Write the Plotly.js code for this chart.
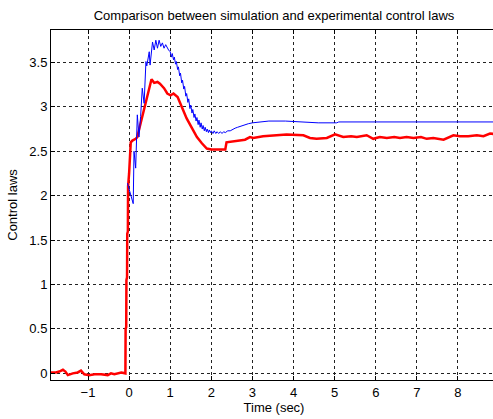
<!DOCTYPE html>
<html>
<head>
<meta charset="utf-8">
<script src="https://cdn.plot.ly/plotly-3.0.1.min.js"></script>
<style>
  html, body { margin: 0; padding: 0; overflow: hidden; background: #ffffff; }
  #chart { width: 500px; height: 419px; }
</style>
</head>
<body>
<div id="chart"></div>
<script>
// Experimental control law (measured), time in seconds
const expTime = [
  -1.90, -1.78, -1.70, -1.61, -1.55, -1.49, -1.37, -1.25, -1.17, -1.09,
  -0.97, -0.84, -0.68, -0.52, -0.44, -0.36, -0.19, -0.11, -0.09, -0.085,
  -0.07, -0.065, -0.05, -0.045, -0.03, -0.025, 0.00, 0.04, 0.08, 0.16,
  0.20, 0.24, 0.33, 0.41, 0.49, 0.545, 0.61, 0.69, 0.75, 0.85,
  0.93, 1.01, 1.08, 1.18, 1.28, 1.40, 1.53, 1.65, 1.77, 1.89,
  2.00, 2.34, 2.37, 2.55, 2.70, 2.82, 2.94, 3.02, 3.26, 3.50,
  3.83, 4.24, 4.40, 4.56, 4.81, 5.01, 5.21, 5.40, 5.54, 5.78,
  5.94, 6.10, 6.27, 6.45, 6.59, 6.75, 6.92, 7.10, 7.24, 7.40,
  7.65, 7.89, 8.05, 8.25, 8.46, 8.62, 8.78, 8.95
];
const expLaw = [
  0.01, 0.01, 0.02, 0.04, 0.02, -0.02, 0.00, 0.01, 0.03, -0.01,
  -0.02, -0.01, -0.01, -0.02, 0.00, -0.01, 0.01, 0.00, 0.00, 0.50,
  0.52, 1.05, 1.08, 1.57, 1.60, 2.10, 2.25, 2.60, 2.62, 2.64,
  2.66, 2.74, 2.91, 3.09, 3.24, 3.31, 3.27, 3.28, 3.26, 3.21,
  3.15, 3.13, 3.15, 3.11, 3.00, 2.87, 2.76, 2.66, 2.59, 2.53,
  2.52, 2.52, 2.60, 2.61, 2.62, 2.63, 2.66, 2.65, 2.67, 2.68,
  2.69, 2.68, 2.65, 2.64, 2.65, 2.69, 2.66, 2.67, 2.66, 2.68,
  2.64, 2.66, 2.65, 2.66, 2.65, 2.66, 2.65, 2.66, 2.64, 2.65,
  2.63, 2.68, 2.67, 2.67, 2.68, 2.67, 2.70, 2.69
];

// Simulated control law, time in seconds
const simTime = [
  -0.04, 0.04, 0.10, 0.12, 0.16, 0.20, 0.24, 0.28, 0.32, 0.365,
  0.41, 0.43, 0.49, 0.51, 0.57, 0.61, 0.65, 0.69, 0.73, 0.77,
  0.81, 0.85, 0.89, 0.96, 1.00, 1.03, 1.05, 1.08, 1.10, 1.13,
  1.15, 1.18, 1.20, 1.23, 1.25, 1.28, 1.30, 1.33, 1.35, 1.38,
  1.40, 1.43, 1.45, 1.48, 1.50, 1.53, 1.55, 1.58, 1.60, 1.63,
  1.65, 1.68, 1.70, 1.73, 1.75, 1.78, 1.80, 1.83, 1.85, 1.88,
  1.90, 1.93, 1.95, 1.98, 2.00, 2.04, 2.07, 2.11, 2.14, 2.18,
  2.22, 2.26, 2.30, 2.34, 2.40, 2.46, 2.52, 2.58, 2.64, 2.70,
  2.80, 2.90, 3.00, 3.20, 3.40, 3.80, 4.20, 4.60, 5.05, 5.10,
  6.00, 8.95
];
const simLaw = [
  2.14, 2.00, 1.91, 2.50, 2.31, 2.91, 2.66, 2.89, 3.21, 3.04,
  3.51, 3.46, 3.62, 3.47, 3.73, 3.64, 3.75, 3.66, 3.75, 3.68,
  3.72, 3.66, 3.70, 3.64, 3.62, 3.56, 3.60, 3.53, 3.56, 3.48,
  3.51, 3.42, 3.45, 3.35, 3.38, 3.27, 3.30, 3.20, 3.23, 3.12,
  3.15, 3.05, 3.09, 2.98, 3.02, 2.93, 2.97, 2.88, 2.92, 2.84,
  2.88, 2.80, 2.85, 2.77, 2.82, 2.75, 2.79, 2.73, 2.77, 2.72,
  2.75, 2.71, 2.74, 2.71, 2.73, 2.70, 2.73, 2.70, 2.72, 2.70,
  2.72, 2.70, 2.72, 2.71, 2.73, 2.73, 2.75, 2.76, 2.77, 2.78,
  2.80, 2.81, 2.82, 2.83, 2.84, 2.84, 2.83, 2.82, 2.82, 2.83,
  2.83, 2.83
];

const xTicks = [-1, 0, 1, 2, 3, 4, 5, 6, 7, 8];
const yTicks = [0, 0.5, 1, 1.5, 2, 2.5, 3, 3.5];

const font = { family: 'Liberation Sans, Arial, sans-serif', size: 13, color: '#000000' };

const traces = [
  {
    x: expTime, y: expLaw, type: 'scatter', mode: 'lines',
    line: { color: '#ff0000', width: 2.5 }, name: 'Experimental'
  },
  {
    x: simTime, y: simLaw, type: 'scatter', mode: 'lines',
    line: { color: '#0000ff', width: 1 }, name: 'Simulation'
  }
];

const axisCommon = {
  showline: true, mirror: 'ticks', linecolor: '#000000', linewidth: 1,
  ticks: 'inside', ticklen: 4, tickcolor: '#000000',
  showgrid: true, gridcolor: '#222222', gridwidth: 1, griddash: '3px,3px',
  zeroline: false, tickfont: font
};

const layout = {
  width: 500, height: 419,
  margin: { l: 51, r: 3, t: 30, b: 39 },
  paper_bgcolor: '#ffffff', plot_bgcolor: '#ffffff',
  showlegend: false,
  title: {
    text: 'Comparison between simulation and experimental control laws',
    font: font, xref: 'paper', x: 0.5, xanchor: 'center',
    yref: 'container', y: 1 - 15 / 419, yanchor: 'middle'
  },
  xaxis: Object.assign({}, axisCommon, {
    range: [-1.9, 8.95], tickmode: 'array', tickvals: xTicks,
    title: { text: 'Time (sec)', font: font, standoff: 3 }
  }),
  yaxis: Object.assign({}, axisCommon, {
    range: [-0.075, 3.865], tickmode: 'array', tickvals: yTicks,
    title: { text: 'Control laws', font: font, standoff: 8 }
  })
};

Plotly.newPlot('chart', traces, layout, { displayModeBar: false, staticPlot: true });
</script>
</body>
</html>
